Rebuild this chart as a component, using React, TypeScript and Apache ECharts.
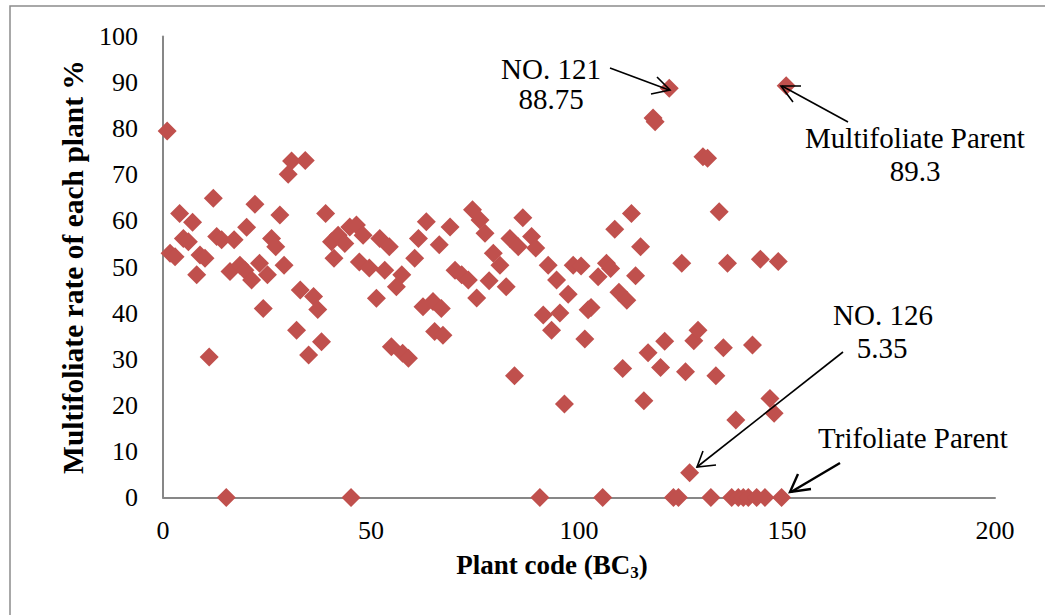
import React, { useEffect, useRef } from "react";
import * as echarts from "echarts";

// Plant code (BC3)
const plantCode: number[] = [
  1.0, 1.7, 2.9, 4.0, 4.9, 6.1, 7.1, 8.1, 8.9, 10.1,
  11.1, 12.1, 12.9, 14.1, 15.2, 16.1, 17.1, 18.5, 19.7, 20.1,
  21.3, 22.1, 23.2, 24.1, 25.1, 26.1, 27.1, 28.1, 29.1, 30.1,
  30.9, 32.1, 33.0, 34.2, 35.0, 36.2, 37.2, 38.1, 39.1, 40.5,
  41.1, 42.1, 43.7, 44.9, 45.2, 46.5, 47.2, 48.1, 49.6, 51.3,
  52.1, 53.3, 54.4, 54.9, 56.1, 57.4, 57.6, 59.0, 60.5, 61.4,
  62.5, 63.3, 64.9, 65.3, 66.4, 66.9, 67.3, 69.0, 70.2, 71.8,
  73.4, 74.4, 75.4, 76.2, 77.4, 78.4, 79.4, 81.0, 82.5, 83.4,
  84.5, 85.4, 86.5, 88.6, 89.6, 90.6, 91.4, 92.6, 93.4, 94.6,
  95.4, 96.5, 97.4, 98.6, 100.5, 101.4, 102.2, 102.9, 104.6, 105.7,
  106.6, 107.6, 108.6, 109.6, 110.5, 111.5, 112.6, 113.6, 114.8, 115.6,
  116.6, 117.8, 118.3, 119.6, 120.6, 121.7, 122.7, 123.9, 124.7, 125.6,
  126.6, 127.6, 128.6, 129.8, 130.9, 131.7, 132.9, 133.7, 134.7, 135.7,
  136.7, 137.7, 138.3, 139.5, 140.7, 141.7, 142.7, 143.6, 144.7, 145.9,
  146.9, 147.9, 148.7, 149.8,
];

// Multifoliate rate of each plant (%)
const multifoliateRate: number[] = [
  79.5, 53.0, 52.2, 61.6, 56.2, 55.5, 59.7, 48.3, 52.6, 51.9,
  30.5, 64.9, 56.6, 55.9, 0, 49.0, 55.9, 50.4, 49.3, 58.6,
  47.2, 63.6, 50.8, 41.0, 48.3, 56.2, 54.4, 61.3, 50.4, 70.1,
  73.0, 36.3, 45.0, 73.1, 30.9, 43.6, 40.8, 33.8, 61.6, 55.5,
  51.9, 56.9, 55.1, 58.7, 0, 59.1, 51.1, 56.9, 49.8, 43.2,
  56.2, 49.3, 54.4, 32.7, 45.7, 48.3, 31.3, 30.2, 51.9, 56.2,
  41.4, 59.8, 42.5, 36.0, 54.8, 41.0, 35.2, 58.7, 49.3, 48.3,
  47.2, 62.4, 43.3, 60.2, 57.3, 47.0, 53.0, 50.4, 45.7, 56.2,
  26.4, 54.4, 60.7, 56.6, 54.1, 0, 39.6, 50.4, 36.3, 47.2,
  40.0, 20.3, 44.1, 50.4, 50.2, 34.4, 40.7, 41.2, 47.9, 0,
  50.8, 49.7, 58.2, 44.5, 28.0, 42.8, 61.6, 48.1, 54.4, 21.0,
  31.4, 82.3, 81.5, 28.2, 33.9, 88.75, 0, 0, 50.8, 27.3,
  5.35, 34.0, 36.3, 73.9, 73.6, 0, 26.4, 62.0, 32.5, 50.8,
  0, 16.8, 0, 0, 0, 33.1, 0, 51.7, 0, 21.5,
  18.3, 51.2, 0, 89.3,
];

const xTicks = { min: 0, max: 200, interval: 50 };
const yTicks = { min: 0, max: 100, interval: 10 };

const annotationLines: string[][] = [
  ["NO. 121", "88.75"],
  ["Multifoliate Parent", "89.3"],
  ["NO. 126", "5.35"],
  ["Trifoliate Parent"],
];

const SERIF = "'Liberation Serif', 'Times New Roman', serif";

export default function App() {
  const ref = useRef<HTMLDivElement>(null);

  useEffect(() => {
    if (!ref.current) return;
    const chart = echarts.init(ref.current, null, { renderer: "svg" });

    const data = plantCode.map((x, i) => [x, multifoliateRate[i]]);

    const txt = (t: string, x: number, y: number, size = 29) => ({
      type: "text",
      x,
      y,
      style: {
        text: t,
        fill: "#000",
        font: `${size}px ${SERIF}`,
        textAlign: "center",
        textVerticalAlign: "middle",
      },
      z: 10,
    });
    const line = (x1: number, y1: number, x2: number, y2: number, w = 1.6) => ({
      type: "line",
      shape: { x1, y1, x2, y2 },
      style: { stroke: "#000", lineWidth: w },
      z: 10,
    });
    const head = (pts: number[][], w = 1.6) => ({
      type: "polyline",
      shape: { points: pts },
      style: { stroke: "#000", lineWidth: w, fill: null },
      z: 10,
    });

    chart.setOption({
      animation: false,
      backgroundColor: "#fff",
      grid: { left: 163, top: 36.5, width: 832, height: 461, containLabel: false },
      xAxis: {
        type: "value",
        min: xTicks.min,
        max: xTicks.max,
        interval: xTicks.interval,
        name: "{b|Plant code (BC}{s|3}{b|)}",
        nameLocation: "middle",
        nameGap: 52,
        nameTextStyle: {
          padding: [0, 54, 0, 0],
          rich: {
            b: { fontFamily: SERIF, fontWeight: "bold", fontSize: 27, color: "#000" },
            s: { fontFamily: SERIF, fontWeight: "bold", fontSize: 17, color: "#000", padding: [14, 0, 0, 0] },
          },
        },
        axisLine: { show: true, lineStyle: { color: "#878787", width: 2 } },
        axisTick: { show: false },
        splitLine: { show: false },
        axisLabel: { color: "#000", fontFamily: SERIF, fontSize: 26, margin: 20 },
      },
      yAxis: {
        type: "value",
        min: yTicks.min,
        max: yTicks.max,
        interval: yTicks.interval,
        name: "Multifoliate rate of each plant %",
        nameLocation: "middle",
        nameRotate: 90,
        nameGap: 72,
        nameTextStyle: { fontFamily: SERIF, fontWeight: "bold", fontSize: 29.5, color: "#000" },
        axisLine: { show: true, lineStyle: { color: "#878787", width: 2 } },
        axisTick: { show: false },
        splitLine: { show: false },
        axisLabel: { color: "#000", fontFamily: SERIF, fontSize: 26, margin: 25 },
      },
      series: [
        {
          type: "scatter",
          data,
          symbol: "diamond",
          symbolSize: 19,
          clip: false,
          itemStyle: { color: "#C0504D", opacity: 1 },
          z: 3,
        },
      ],
      graphic: [
        {
          type: "rect",
          shape: { x: 10, y: 6, width: 1200, height: 800 },
          style: { stroke: "#8c8c8c", lineWidth: 1.5, fill: null },
          silent: true,
        },
        txt(annotationLines[0][0], 551, 69),
        txt(annotationLines[0][1], 551, 99),
        txt(annotationLines[1][0], 915, 138),
        txt(annotationLines[1][1], 915, 171),
        txt(annotationLines[2][0], 883, 315),
        txt(annotationLines[2][1], 882, 348),
        txt(annotationLines[3][0], 913, 438),
        line(610, 68, 669, 90),
        head([[657, 77], [670, 90], [651, 94]]),
        line(848, 122, 782, 86),
        head([[793, 102], [781, 86], [801, 86]]),
        line(843, 352, 697, 467),
        head([[703, 451], [697, 467], [716, 465]]),
        line(840, 463, 791, 492, 2.4),
        head([[798, 474], [790, 492], [811, 489]], 2.4),
      ],
    });

    return () => chart.dispose();
  }, []);

  return (
    <div
      ref={ref}
      style={{ position: "fixed", left: 0, top: 0, width: 1045, height: 615, background: "#fff" }}
    />
  );
}
